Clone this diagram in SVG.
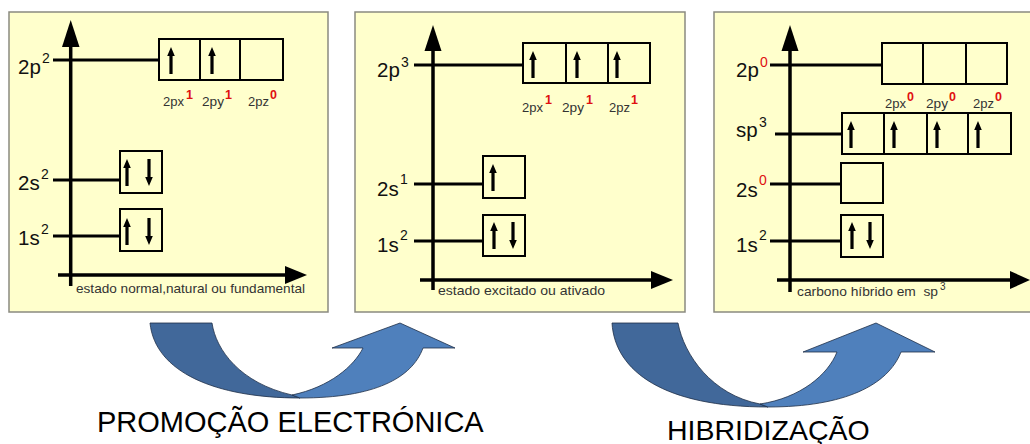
<svg xmlns="http://www.w3.org/2000/svg" xmlns:xlink="http://www.w3.org/1999/xlink" width="1030" height="444" viewBox="0 0 1030 444">
<style>
.panel{fill:#ffffcc;stroke:#8a8a80;stroke-width:1.5}
.ax{stroke:#000;stroke-width:3.5;fill:none}
.lv{stroke:#000;stroke-width:3;fill:none}
.bx{fill:none;stroke:#000;stroke-width:2}
.hd{fill:#000}
.big{font-family:"Liberation Sans",Arial,sans-serif;font-size:20.5px;fill:#111}
.sup{font-family:"Liberation Sans",Arial,sans-serif;font-size:14px;fill:#111}
.supr{font-family:"Liberation Sans",Arial,sans-serif;font-size:14px;fill:#e01010}
.sm{font-family:"Liberation Sans",Arial,sans-serif;font-size:13px;fill:#333}
.smr{font-family:"Liberation Sans",Arial,sans-serif;font-size:12.5px;font-weight:bold;fill:#e01010}
.cap{font-family:"Liberation Sans",Arial,sans-serif;font-size:13px;fill:#333}
.title{font-family:"Liberation Sans",Arial,sans-serif;font-size:29px;fill:#000}
.dark{fill:#41689a;stroke:#1e2e48;stroke-width:0.8}
.light{fill:#4f80bc;stroke:#1e2e48;stroke-width:0.8}
</style>
<defs>
<path id="up" d="M-1.6,9 V27 H1.6 V9 H3.8 L0,0 L-3.8,9 Z" fill="#000"/>
<path id="dn" d="M-1.6,0 V18 H-3.8 L0,27 L3.8,18 H1.6 V0 Z" fill="#000"/>
</defs>
<rect width="1030" height="444" fill="#fff"/>

<g id="panel1">
<rect class="panel" x="9" y="12" width="319" height="300"/>
<line class="ax" x1="70.7" y1="286" x2="70.7" y2="44"/>
<polygon class="hd" points="70.7,20 62,47 79.5,47"/>
<line class="ax" x1="58" y1="275" x2="287" y2="275"/>
<polygon class="hd" points="307,275 285,266 285,284"/>
<line class="lv" x1="53" y1="60" x2="159" y2="60"/>
<line class="lv" x1="53" y1="180" x2="120" y2="180"/>
<line class="lv" x1="53" y1="236" x2="120" y2="236"/>
<rect class="bx" x="159" y="39" width="124" height="41"/>
<line class="bx" x1="200" y1="39" x2="200" y2="80"/>
<line class="bx" x1="240" y1="39" x2="240" y2="80"/>
<rect class="bx" x="120" y="151" width="42" height="42"/>
<rect class="bx" x="120" y="209" width="42" height="42"/>
<use xlink:href="#up" x="171" y="47"/>
<use xlink:href="#up" x="212" y="47"/>
<use xlink:href="#up" x="127" y="159"/>
<use xlink:href="#dn" x="149" y="159"/>
<use xlink:href="#up" x="127" y="218"/>
<use xlink:href="#dn" x="149" y="218"/>
<text class="big" x="18" y="74">2p</text><text class="sup" x="42" y="63">2</text>
<text class="big" x="18" y="190">2s</text><text class="sup" x="41" y="179">2</text>
<text class="big" x="18" y="245">1s</text><text class="sup" x="41" y="234">2</text>
<text class="sm" x="163" y="106" textLength="21" lengthAdjust="spacingAndGlyphs">2px</text><text class="smr" x="186" y="99">1</text>
<text class="sm" x="202" y="106" textLength="22" lengthAdjust="spacingAndGlyphs">2py</text><text class="smr" x="225" y="99">1</text>
<text class="sm" x="248" y="106" textLength="21" lengthAdjust="spacingAndGlyphs">2pz</text><text class="smr" x="270" y="99">0</text>
<text class="cap" x="76" y="293" textLength="229" lengthAdjust="spacingAndGlyphs">estado normal,natural ou fundamental</text>
</g>

<g id="panel2">
<rect class="panel" x="355" y="12" width="330" height="300"/>
<line class="ax" x1="433" y1="290" x2="433" y2="48"/>
<polygon class="hd" points="433,25 424.5,51 441.5,51"/>
<line class="ax" x1="420" y1="280" x2="652" y2="280"/>
<polygon class="hd" points="673,280 651,271 651,289"/>
<line class="lv" x1="414" y1="65" x2="523" y2="65"/>
<line class="lv" x1="414" y1="184" x2="483" y2="184"/>
<line class="lv" x1="414" y1="241" x2="483" y2="241"/>
<rect class="bx" x="523" y="43" width="127" height="40"/>
<line class="bx" x1="566" y1="43" x2="566" y2="83"/>
<line class="bx" x1="608" y1="43" x2="608" y2="83"/>
<rect class="bx" x="483" y="156" width="42" height="42"/>
<rect class="bx" x="483" y="215" width="42" height="41"/>
<use xlink:href="#up" x="533" y="51"/>
<use xlink:href="#up" x="577" y="51"/>
<use xlink:href="#up" x="617" y="51"/>
<use xlink:href="#up" x="493" y="164"/>
<use xlink:href="#up" x="494" y="222"/>
<use xlink:href="#dn" x="513" y="222"/>
<text class="big" x="377" y="77">2p</text><text class="sup" x="401" y="67">3</text>
<text class="big" x="377" y="196">2s</text><text class="sup" x="400" y="184">1</text>
<text class="big" x="377" y="252">1s</text><text class="sup" x="400" y="240">2</text>
<text class="sm" x="522" y="112" textLength="21" lengthAdjust="spacingAndGlyphs">2px</text><text class="smr" x="545" y="104">1</text>
<text class="sm" x="562" y="112" textLength="22" lengthAdjust="spacingAndGlyphs">2py</text><text class="smr" x="586" y="104">1</text>
<text class="sm" x="609" y="112" textLength="21" lengthAdjust="spacingAndGlyphs">2pz</text><text class="smr" x="631" y="104">1</text>
<text class="cap" x="438" y="295" textLength="167" lengthAdjust="spacingAndGlyphs">estado excitado ou ativado</text>
</g>

<g id="panel3">
<rect class="panel" x="714" y="12" width="320" height="300"/>
<line class="ax" x1="790" y1="292" x2="790" y2="48"/>
<polygon class="hd" points="790,25 781.5,51 798.5,51"/>
<line class="ax" x1="777" y1="280" x2="1012" y2="280"/>
<polygon class="hd" points="1030,280 1010,271 1010,289"/>
<line class="lv" x1="770" y1="65" x2="882" y2="65"/>
<line class="lv" x1="775" y1="134" x2="842" y2="134"/>
<line class="lv" x1="770" y1="184" x2="841" y2="184"/>
<line class="lv" x1="770" y1="241" x2="841" y2="241"/>
<rect class="bx" x="882" y="43" width="125" height="41"/>
<line class="bx" x1="923" y1="43" x2="923" y2="84"/>
<line class="bx" x1="966" y1="43" x2="966" y2="84"/>
<rect class="bx" x="842" y="113" width="169" height="41"/>
<line class="bx" x1="884" y1="113" x2="884" y2="154"/>
<line class="bx" x1="927" y1="113" x2="927" y2="154"/>
<line class="bx" x1="968" y1="113" x2="968" y2="154"/>
<rect class="bx" x="841" y="163" width="42" height="40"/>
<rect class="bx" x="841" y="215" width="42" height="42"/>
<use xlink:href="#up" x="851" y="121"/>
<use xlink:href="#up" x="894" y="121"/>
<use xlink:href="#up" x="937" y="121"/>
<use xlink:href="#up" x="978" y="121"/>
<use xlink:href="#up" x="852" y="222"/>
<use xlink:href="#dn" x="870" y="222"/>
<text class="big" x="736" y="77">2p</text><text class="supr" x="760" y="67">0</text>
<text class="big" x="736" y="137">sp</text><text class="sup" x="759" y="127">3</text>
<text class="big" x="736" y="197">2s</text><text class="supr" x="759" y="185">0</text>
<text class="big" x="736" y="252">1s</text><text class="sup" x="759" y="240">2</text>
<text class="sm" x="885" y="108" textLength="21" lengthAdjust="spacingAndGlyphs">2px</text><text class="smr" x="907" y="101">0</text>
<text class="sm" x="926" y="108" textLength="22" lengthAdjust="spacingAndGlyphs">2py</text><text class="smr" x="949" y="101">0</text>
<text class="sm" x="973" y="108" textLength="21" lengthAdjust="spacingAndGlyphs">2pz</text><text class="smr" x="995" y="101">0</text>
<text class="cap" x="797" y="296" textLength="141" lengthAdjust="spacingAndGlyphs" xml:space="preserve">carbono híbrido em  sp</text><text class="sm" x="940" y="290" style="font-size:10px">3</text>
</g>

<g id="connectors">
<g id="promo-arrow">
<path class="dark" d="M150,323 L212,323 C216,350 240,383 292,395 L300,398 C215,398 155,372 150,323 Z"/>
<path class="light" d="M292,395 C330,387 354,366 363,348 L332,348 L400,323 L455,348 L423,348 C412,378 375,398 300,398 Z"/>
</g>
<g id="hib-arrow">
<path class="dark" d="M612,323 L678,323 C684,355 712,395 760,404 L768,407 C665,407 615,372 612,323 Z"/>
<path class="light" d="M760,404 C800,398 828,375 837,352 L803,352 L876,323 L935,352 L901,352 C888,385 845,407 768,407 Z"/>
</g>
</g>

<text class="title" x="97" y="432">PROMOÇÃO ELECTRÓNICA</text>
<text class="title" x="667" y="440" style="font-size:28.5px">HIBRIDIZAÇÃO</text>
</svg>
